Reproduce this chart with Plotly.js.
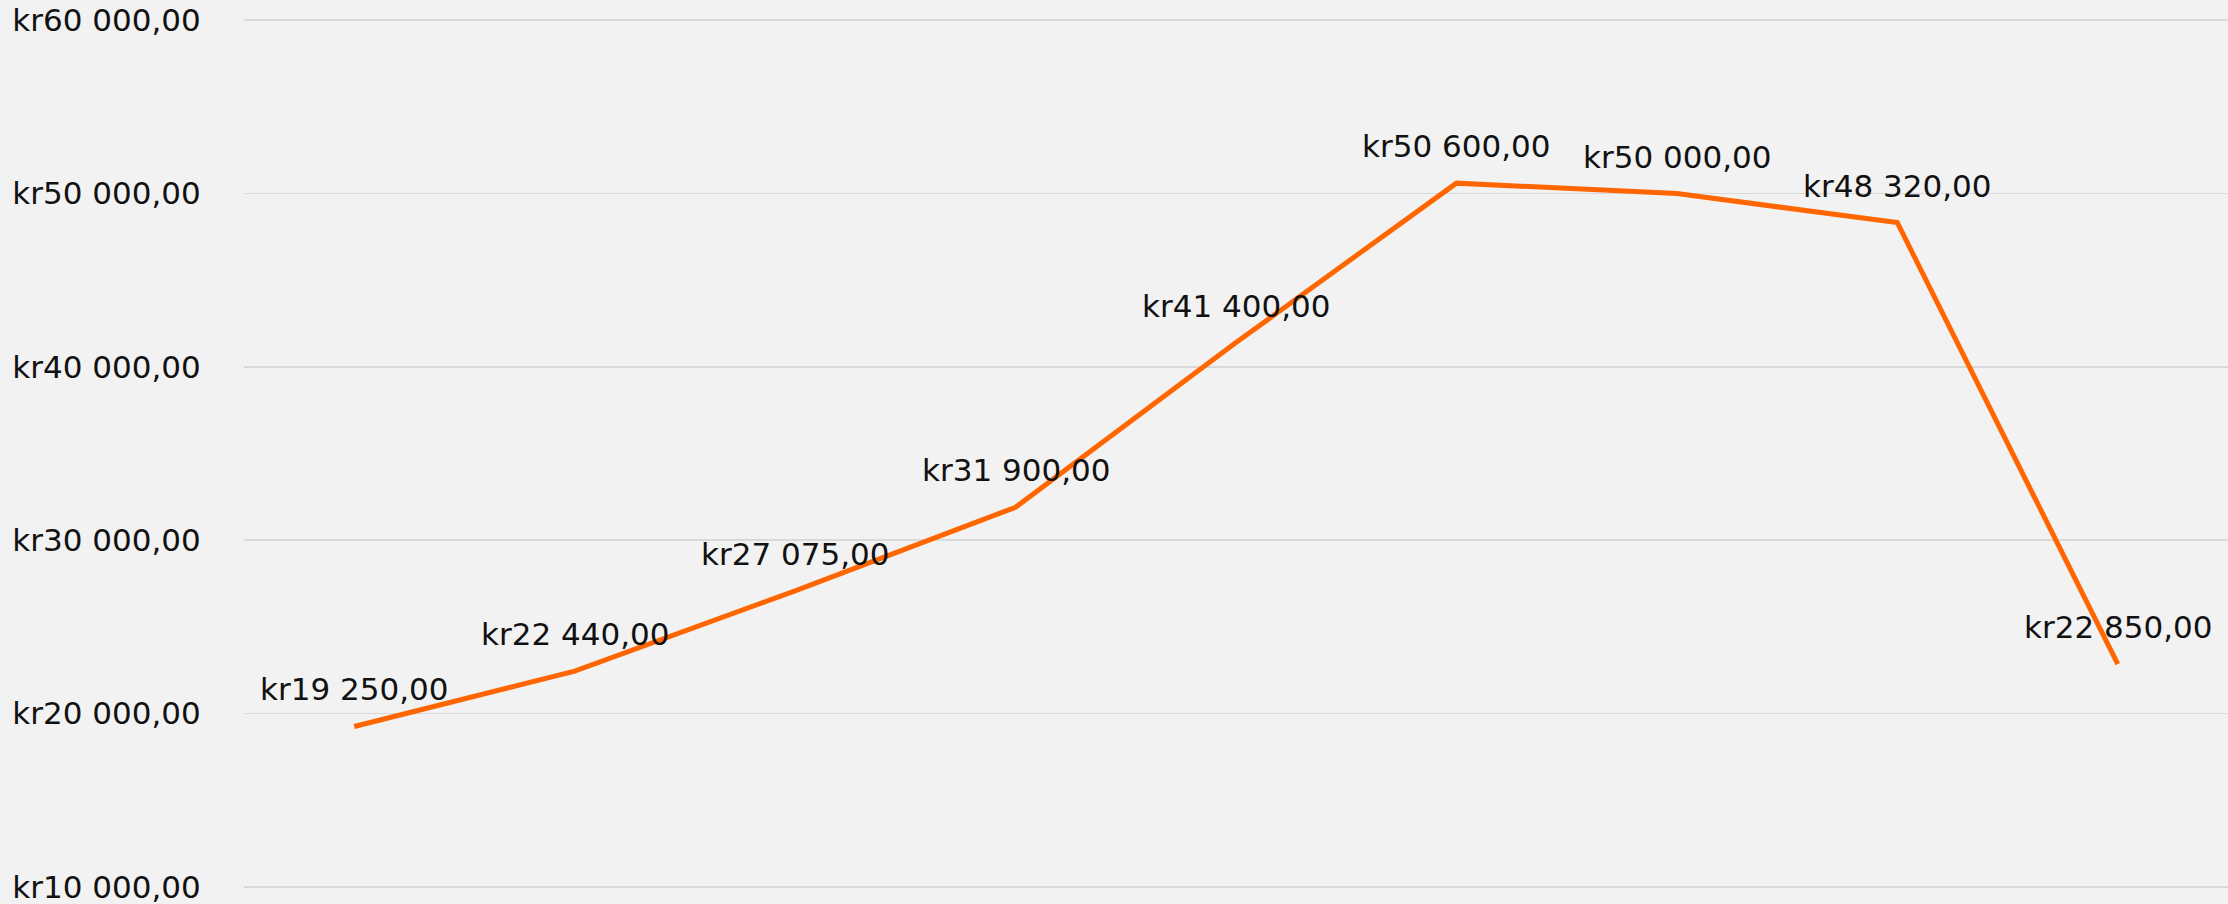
<!DOCTYPE html>
<html>
<head>
<meta charset="utf-8">
<script src="https://cdn.plot.ly/plotly-3.0.1.min.js"></script>
<style>
  html, body { margin: 0; padding: 0; background: #f2f2f2; }
  #chart { width: 2228px; height: 904px; }
</style>
</head>
<body>
<div id="chart"></div>
<script>
const categories = ["1", "2", "3", "4", "5", "6", "7", "8", "9"];
const values = [19250, 22440, 27075, 31900, 41400, 50600, 50000, 48320, 22850];
const yTickValues = [10000, 20000, 30000, 40000, 50000, 60000];

function fmtKr(v) {
  const fixed = v.toFixed(2);
  const parts = fixed.split(".");
  const intPart = parts[0].replace(/\B(?=(\d{3})+(?!\d))/g, " ");
  return "kr" + intPart + "," + parts[1];
}

const FONT = "DejaVu Sans, sans-serif";
const FS = 31;

const trace = {
  x: categories,
  y: values,
  type: "scatter",
  mode: "lines",
  line: { color: "#ff6600", width: 5 },
  hoverinfo: "none"
};

const annotations = categories.map((c, i) => ({
  x: i,
  y: values[i],
  xref: "x",
  yref: "y",
  text: fmtKr(values[i]),
  showarrow: false,
  xanchor: "center",
  yanchor: "middle",
  yshift: 37,
  font: { family: FONT, size: FS, color: "#111111" }
}));

const layout = {
  width: 2228,
  height: 904,
  paper_bgcolor: "#f2f2f2",
  plot_bgcolor: "#f2f2f2",
  margin: { l: 244, r: 0, t: 19, b: 16 },
  showlegend: false,
  xaxis: {
    type: "category",
    range: [-0.5, 8.5],
    showgrid: false,
    zeroline: false,
    showline: false,
    showticklabels: false,
    ticks: ""
  },
  yaxis: {
    range: [9930, 60070],
    tickvals: yTickValues,
    ticktext: yTickValues.map(fmtKr),
    ticklabeloverflow: "allow",
    showgrid: true,
    gridcolor: "#d9d9d9",
    gridwidth: 1.5,
    zeroline: false,
    showline: false,
    ticks: "outside",
    ticklen: 36,
    tickcolor: "rgba(0,0,0,0)",
    tickfont: { family: FONT, size: FS, color: "#111111" }
  },
  annotations: annotations
};

Plotly.newPlot("chart", [trace], layout, { staticPlot: true, displayModeBar: false });
</script>
</body>
</html>
